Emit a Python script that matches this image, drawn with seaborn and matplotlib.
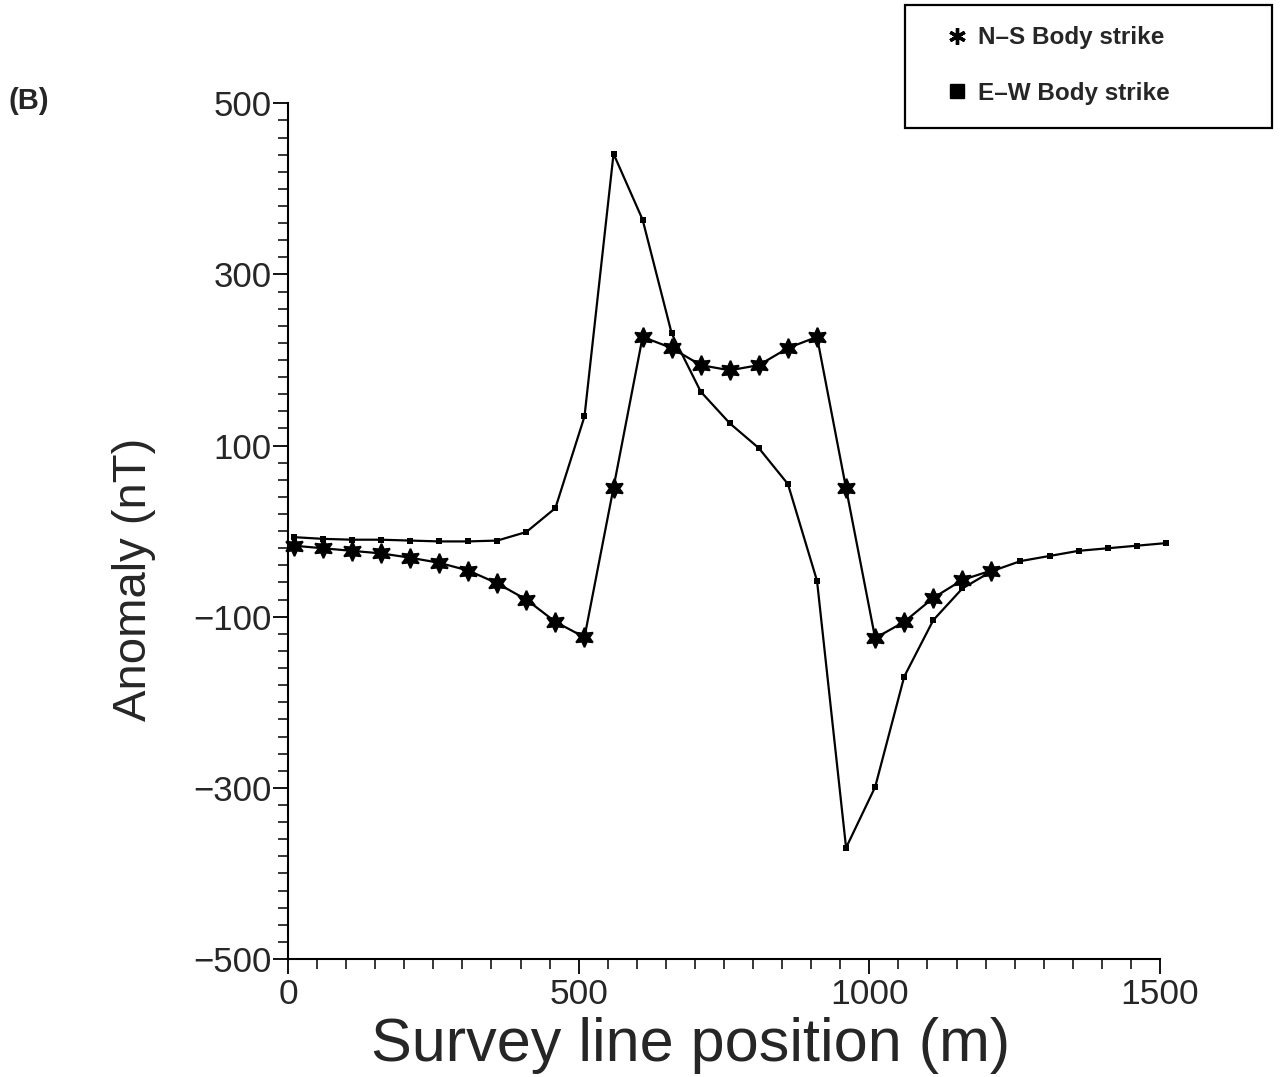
import numpy as np
import pandas as pd
import matplotlib
matplotlib.use("Agg")
import matplotlib.pyplot as plt
from matplotlib.lines import Line2D
from matplotlib.patches import Rectangle
from matplotlib.ticker import MultipleLocator, FixedLocator
import seaborn as sns

# Survey stations (m) and magnetic anomalies (nT)
stations = [10, 60, 110, 160, 210, 260, 310, 360, 410, 460, 510, 560, 610, 660, 710,
            760, 810, 860, 910, 960, 1010, 1060, 1110, 1160, 1210, 1260, 1310, 1360,
            1410, 1460, 1510]

ns_strike = [-17, -20, -23, -26, -31, -37, -46, -61, -80, -106, -124, 51, 227, 214,
             194, 188, 194, 214, 227, 50, -125, -106, -78, -57, -46]

ew_strike = [-7, -9, -10, -10, -11, -12, -12, -11, -1, 27, 134, 441, 364, 231, 163,
             126, 97, 55, -58, -370, -299, -170, -104, -67, -47, -35, -29, -23, -20,
             -17, -14]

series_labels = ["N\u2013S Body strike", "E\u2013W Body strike"]
x_ticks = [0, 500, 1000, 1500]
y_ticks = [-500, -300, -100, 100, 300, 500]

ns_df = pd.DataFrame({"position": stations[:len(ns_strike)], "anomaly": ns_strike})
ew_df = pd.DataFrame({"position": stations, "anomaly": ew_strike})

sns.set_style("ticks")
plt.rcParams["font.family"] = ["Liberation Sans", "DejaVu Sans"]

W, H = 1282, 1077
fig = plt.figure(figsize=(W / 100, H / 100), dpi=100)
ax = fig.add_axes([288 / W, 1 - 959 / H, (1160 - 288) / W, (959 - 103.3) / H])

star = (6, 1, 0)
sns.lineplot(data=ns_df, x="position", y="anomaly", ax=ax, color="black",
             linewidth=1.6, marker=star, markersize=14, markeredgewidth=1.3,
             markeredgecolor="black", markerfacecolor="black",
             estimator=None, sort=False, legend=False, clip_on=False)
sns.lineplot(data=ew_df, x="position", y="anomaly", ax=ax, color="black",
             linewidth=1.6, marker="s", markersize=4.5, markeredgewidth=0,
             markerfacecolor="black", estimator=None, sort=False, legend=False,
             clip_on=False)

ax.set_xlim(0, 1500)
ax.set_ylim(-500, 500)
ax.xaxis.set_major_locator(FixedLocator(x_ticks))
ax.xaxis.set_minor_locator(MultipleLocator(50))
ax.yaxis.set_major_locator(FixedLocator(y_ticks))
ax.yaxis.set_minor_locator(MultipleLocator(20))

for side in ("top", "right"):
    ax.spines[side].set_visible(False)
for side in ("left", "bottom"):
    ax.spines[side].set_linewidth(1.5)
    ax.spines[side].set_color("black")

ax.tick_params(which="major", direction="out", length=11, width=1.3, color="black")
ax.tick_params(which="minor", direction="out", length=7, width=1.1, color="black")
ax.tick_params(axis="x", which="major", pad=3)
ax.tick_params(axis="y", which="major", pad=1)
ax.set_yticklabels(["\u2212500", "\u2212300", "\u2212100", "100", "300", "500"],
                   fontsize=25)
ax.set_xticklabels([str(t) for t in x_ticks], fontsize=25.5)

ax.set_xlabel("Survey line position (m)", fontsize=44)
ax.set_ylabel("Anomaly (nT)", fontsize=34)
ax.xaxis.set_label_coords((691 - 288) / 872, (959 - 1046) / 855.7)
ax.yaxis.set_label_coords((134 - 288) / 872, (959 - 579) / 855.7)
ax.xaxis.label.set_va("center")
ax.yaxis.label.set_va("center")

fig.text(8 / W, 1 - 101 / H, "(B)", fontsize=21, fontweight="bold", va="center", ha="left")

# Legend box in the upper right corner of the figure
fig.patches.append(Rectangle((905 / W, 1 - 128 / H), (1272 - 905) / W, (128 - 5) / H,
                             transform=fig.transFigure, fill=False, edgecolor="black",
                             linewidth=1.6))
handles = [
    Line2D([], [], linestyle="none", marker=(6, 2, 0), markersize=12,
           markeredgewidth=2.4, color="black"),
    Line2D([], [], linestyle="none", marker="s", markersize=10, color="black"),
]
fig.legend(handles, series_labels, loc="upper left",
           bbox_to_anchor=(933 / W, 1 - 14 / H), frameon=False,
           handlelength=1.0, handletextpad=0.35, labelspacing=1.35,
           borderpad=0, prop={"weight": "bold", "size": 17.5})

fig.savefig("out.png", dpi=100)
